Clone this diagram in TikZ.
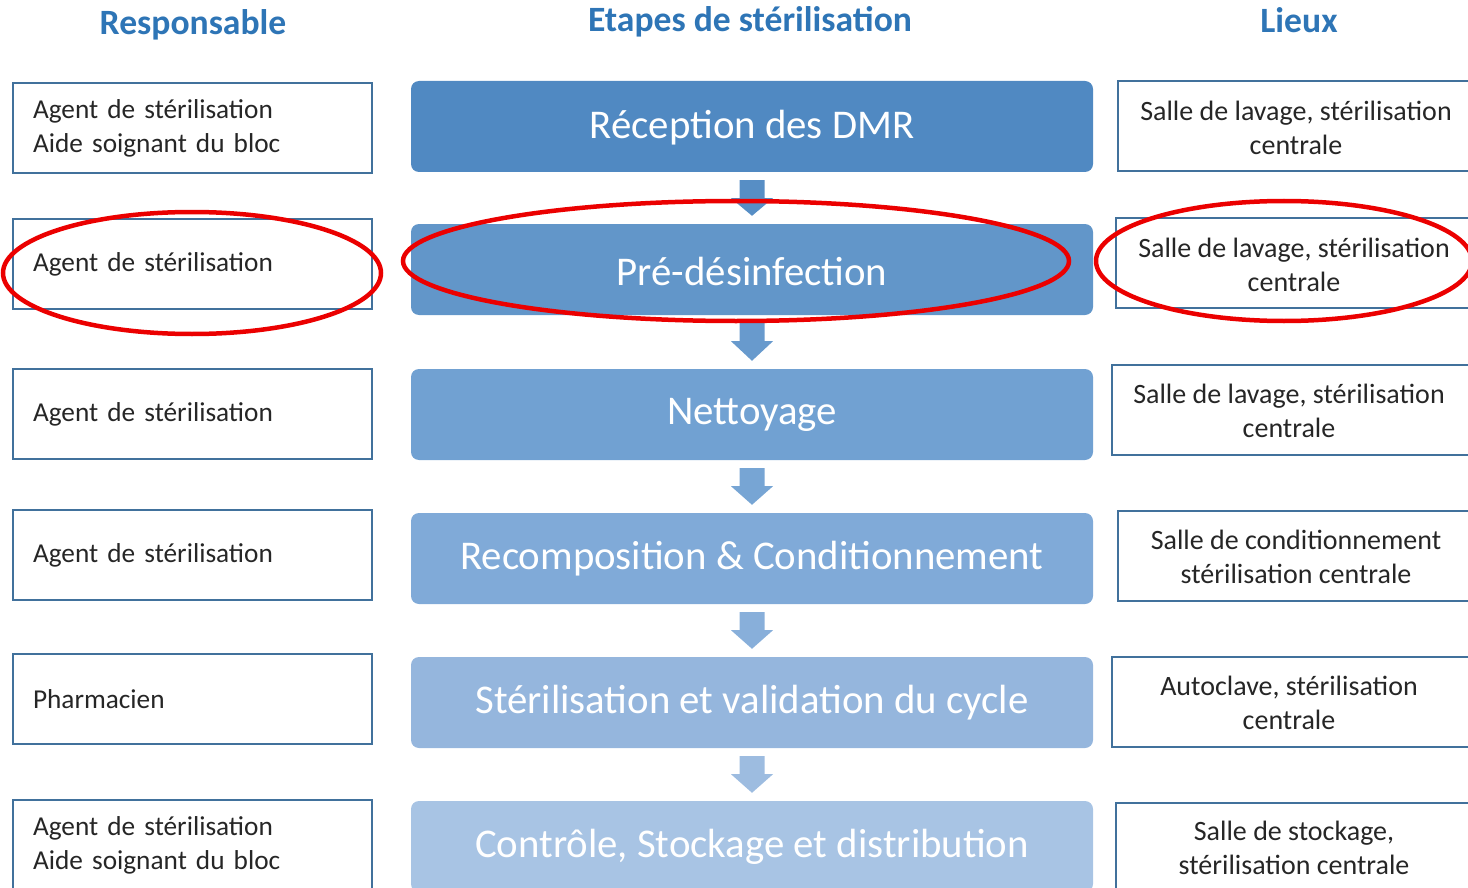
\documentclass[tikz,border=0pt]{standalone}
\usepackage{fontspec}
\setmainfont{Carlito}
\usetikzlibrary{calc}
\definecolor{hdr}{RGB}{46,117,182}
\definecolor{bord}{RGB}{65,113,156}
\definecolor{cA}{RGB}{80,137,194}
\definecolor{cB}{RGB}{98,150,201}
\definecolor{cC}{RGB}{113,161,210}
\definecolor{cD}{RGB}{128,170,216}
\definecolor{cE}{RGB}{149,182,221}
\definecolor{cF}{RGB}{168,196,228}
\definecolor{ringred}{RGB}{235,0,0}
\tikzset{
  header/.style={font=\fontsize{35.6}{40}\selectfont\bfseries, text=hdr},
  leftbox/.style={draw=bord, line width=2.2pt, minimum width=359pt, minimum height=90pt,
    text width=319pt, align=left, inner xsep=20pt, font=\fontsize{27.3}{34}\selectfont, text=black!85},
  stepbox/.style={rounded corners=8pt, minimum width=682pt, minimum height=91pt,
    text=white, font=\fontsize{40.8}{44}\selectfont},
  steptext/.style={text=white, font=\fontsize{40.8}{44}\selectfont},
  rightbox/.style={draw=bord, line width=2.2pt, minimum width=400pt, minimum height=90pt, anchor=west},
  righttext/.style={align=center, font=\fontsize{28}{34}\selectfont, text=black!85},
  ring/.style={draw=ringred, line width=4.5pt}
}
% flow arrow from bottom of #1 to top of #2, fill #3
\newcommand{\flowarrowdraw}[3]{%
  \fill[#3] ($(#1.south)+(-12.5,8)$) -- ++(25,0) -- ++(0,18) -- ++(8.5,0)
    -- ($(#2.north)+(0,-8)$) -- ($(#1.south)+(-21,26)$) -- ++(8.5,0) -- cycle;}
\begin{document}
\begin{tikzpicture}[x=1pt,y=-1pt]
\useasboundingbox (0,0) rectangle (1468,888);
\clip (0,0) rectangle (1468,888);
% headers
\node[header] (h1) at (193,25) {Responsable};
\node[header] (h2) at (750,22) {Etapes de stérilisation};
\node[header] (h3) at (1299,20) {Lieux};
% left boxes
\node[leftbox] (l1) at (192.5,128) {Agent de stérilisation\\Aide soignant du bloc};
\node[leftbox] (l2) at (192.5,264) {Agent de stérilisation};
\node[leftbox] (l3) at (192.5,414) {Agent de stérilisation};
\node[leftbox] (l4) at (192.5,555) {Agent de stérilisation};
\node[leftbox] (l5) at (192.5,699) {Pharmacien};
\node[leftbox] (l6) at (192.5,845) {Agent de stérilisation\\Aide soignant du bloc};
% center steps
\node[stepbox, fill=cA] (c1) at (752,126.5) {};
\node[stepbox, fill=cB] (c2) at (752,269.5) {};
\node[stepbox, fill=cC] (c3) at (752,414.5) {};
\node[stepbox, fill=cD] (c4) at (752,558.5) {};
\node[stepbox, fill=cE] (c5) at (752,702.5) {};
\node[stepbox, fill=cF] (c6) at (752,846.5) {};
\node[steptext] (s1) at (752,128) {Réception des DMR};
\node[steptext] (s2) at (752,271) {Pré-désinfection};
\node[steptext] (s3) at (752,415) {Nettoyage};
\node[steptext] (s4) at (752,559) {Recomposition \& Conditionnement};
\node[steptext] (s5) at (752,703) {Stérilisation et validation du cycle};
\node[steptext] (s6) at (752,847) {Contrôle, Stockage et distribution};
% arrows
\flowarrowdraw{c1}{c2}{cA!60!cB}
\flowarrowdraw{c2}{c3}{cB!60!cC}
\flowarrowdraw{c3}{c4}{cC!60!cD}
\flowarrowdraw{c4}{c5}{cD!60!cE}
\flowarrowdraw{c5}{c6}{cE!60!cF}
% right boxes
\node[rightbox] (r1) at (1117,126) {};
\node[rightbox] (r2) at (1115,263) {};
\node[rightbox] (r3) at (1111,410) {};
\node[rightbox] (r4) at (1117,556) {};
\node[rightbox] (r5) at (1111,702) {};
\node[rightbox] (r6) at (1115,848) {};
\node[righttext] (t1) at (1296,128) {Salle de lavage, stérilisation\\centrale};
\node[righttext] (t2) at (1294,265) {Salle de lavage, stérilisation\\centrale};
\node[righttext] (t3) at (1289,411) {Salle de lavage, stérilisation\\centrale};
\node[righttext] (t4) at (1296,557) {Salle de conditionnement\\stérilisation centrale};
\node[righttext] (t5) at (1289,703) {Autoclave, stérilisation\\centrale};
\node[righttext] (t6) at (1294,848) {Salle de stockage,\\stérilisation centrale};
% red ellipses
\draw[ring] (192,273) ellipse [x radius=189, y radius=61];
\draw[ring] (736,261) ellipse [x radius=333, y radius=60];
\draw[ring] (1284,261) ellipse [x radius=188, y radius=60];
\end{tikzpicture}
\end{document}
